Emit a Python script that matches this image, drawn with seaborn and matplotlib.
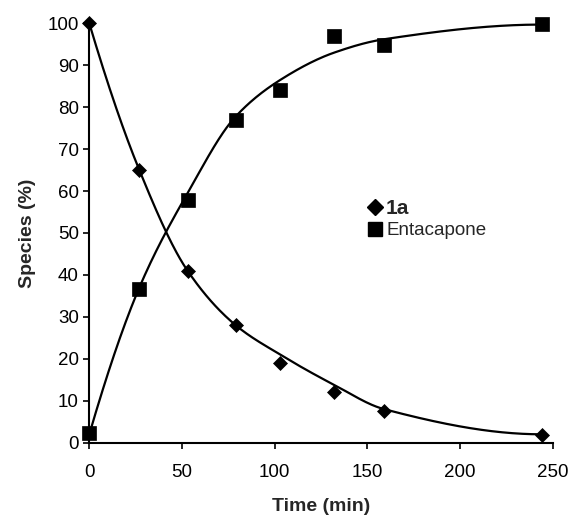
import numpy as np
import pandas as pd
import matplotlib
matplotlib.use("Agg")
import matplotlib.pyplot as plt
import seaborn as sns
from matplotlib.lines import Line2D

# ---- data ----
time_min = [0, 27, 53, 79, 103, 132, 159, 244]
species_1a = [100, 65, 41, 28, 19, 12, 7.6, 1.8]
species_entacapone = [2.2, 36.6, 57.9, 77, 84.1, 97, 94.8, 99.8]
# fitted-curve values at the sampling times
fit_1a = [100, 65, 41, 28, 21, 13.8, 8.0, 2.0]
fit_entacapone = [2, 37, 59.5, 77.8, 86.5, 93, 96.2, 99.7]
series_labels = ["1a", "Entacapone"]
x_ticks = [0, 50, 100, 150, 200, 250]
y_ticks = list(range(0, 101, 10))


def smooth_line(xs, ys, n=400):
    """Monotone cubic (Fritsch-Carlson) smooth curve through the fitted values."""
    x = np.asarray(xs, float)
    y = np.asarray(ys, float)
    h = np.diff(x)
    d = np.diff(y) / h
    m = np.zeros_like(y)
    for k in range(1, len(x) - 1):
        if d[k - 1] * d[k] > 0:
            w1 = 2 * h[k] + h[k - 1]
            w2 = h[k] + 2 * h[k - 1]
            m[k] = (w1 + w2) / (w1 / d[k - 1] + w2 / d[k])
    def end(h0, h1, d0, d1):
        v = ((2 * h0 + h1) * d0 - h0 * d1) / (h0 + h1)
        if np.sign(v) != np.sign(d0):
            v = 0.0
        elif np.sign(d0) != np.sign(d1) and abs(v) > abs(3 * d0):
            v = 3 * d0
        return v
    m[0] = end(h[0], h[1], d[0], d[1])
    m[-1] = end(h[-1], h[-2], d[-1], d[-2])
    xx = np.linspace(x[0], x[-1], n)
    idx = np.clip(np.searchsorted(x, xx, side="right") - 1, 0, len(x) - 2)
    t = (xx - x[idx]) / h[idx]
    h00 = 2 * t ** 3 - 3 * t ** 2 + 1
    h10 = t ** 3 - 2 * t ** 2 + t
    h01 = -2 * t ** 3 + 3 * t ** 2
    h11 = t ** 3 - t ** 2
    yy = h00 * y[idx] + h10 * h[idx] * m[idx] + h01 * y[idx + 1] + h11 * h[idx] * m[idx + 1]
    return xx, yy


sns.set_theme(style="ticks")
plt.rcParams["font.family"] = ["Liberation Sans", "DejaVu Sans"]

points = pd.DataFrame({
    "time": time_min * 2,
    "value": species_1a + species_entacapone,
    "species": [series_labels[0]] * len(time_min) + [series_labels[1]] * len(time_min),
})

fig = plt.figure(figsize=(5.71, 5.16), dpi=100)
ax = fig.add_axes([0.1564, 0.1421, 0.8116, 0.8127])

for fit in (fit_1a, fit_entacapone):
    cx, cy = smooth_line(time_min, fit)
    sns.lineplot(x=cx, y=cy, sort=False, estimator=None, ax=ax,
                 color="black", lw=1.6, zorder=2)

d1 = points[points.species == series_labels[0]]
d2 = points[points.species == series_labels[1]]
ax.plot(d1.time, d1.value, ls="none", marker="D", ms=7, color="black", mec="black",
        mew=0.5, clip_on=False, zorder=3)
ax.plot(d2.time, d2.value, ls="none", marker="s", ms=10, color="black", mec="black",
        mew=0.5, clip_on=False, zorder=3)

ax.set_xlim(0, 250)
ax.set_ylim(0, 100)
ax.set_xticks(x_ticks)
ax.set_yticks(y_ticks)
for s in ("top", "right"):
    ax.spines[s].set_visible(False)
for s in ("left", "bottom"):
    ax.spines[s].set_linewidth(1.5)
    ax.spines[s].set_color("black")
ax.tick_params(axis="both", direction="out", length=4.5, width=1.2, color="black",
               labelsize=13.5, labelcolor="black")
ax.tick_params(axis="x", pad=11)
ax.tick_params(axis="y", pad=3)
ax.set_xlabel("Time (min)", fontsize=14, fontweight="bold", labelpad=12)
ax.set_ylabel("Species (%)", fontsize=14, fontweight="bold", labelpad=8)

handles = [
    Line2D([], [], ls="none", marker="D", ms=8, color="black"),
    Line2D([], [], ls="none", marker="s", ms=10, color="black"),
]
leg = ax.legend(handles, series_labels, frameon=False, fontsize=13.5,
                loc="upper left", bbox_to_anchor=(0.600, 0.582),
                handlelength=0.8, handletextpad=0.2, labelspacing=0.25,
                borderpad=0, borderaxespad=0)
leg.get_texts()[0].set_fontweight("bold")
leg.get_texts()[0].set_fontsize(15)

fig.savefig("out.png", dpi=100)
